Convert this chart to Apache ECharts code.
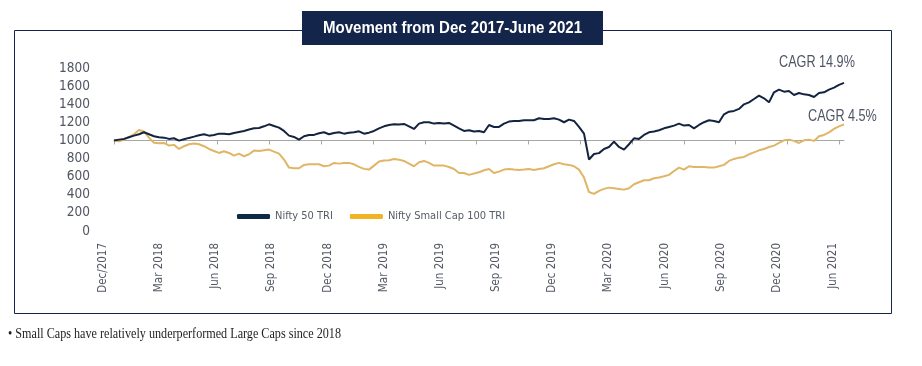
<!DOCTYPE html>
<html><head><meta charset="utf-8">
<script src="https://cdn.jsdelivr.net/npm/echarts@6/dist/echarts.min.js"></script>
<style>html,body{margin:0;padding:0;background:#fff}#c{width:922px;height:366px}</style>
</head><body><div id="c"></div>
<script>
const titleText = 'Movement from Dec 2017-June 2021';
const noteText = '\u2022 Small Caps have relatively underperformed Large Caps since 2018';
const categories = ['Dec/2017','Mar 2018','Jun 2018','Sep 2018','Dec 2018','Mar 2019','Jun 2019','Sep 2019','Dec 2019','Mar 2020','Jun 2020','Sep 2020','Dec 2020','Jun 2021'];
const seriesNames = ['Nifty 50 TRI', 'Nifty Small Cap 100 TRI'];
const cagrLabels = ['CAGR 14.9%', 'CAGR 4.5%'];
const yMin = 0, yMax = 1800, yStep = 200, baseLevel = 1000;
const nifty50 = [1000,1009,1017,1035,1053,1068,1090,1068,1046,1035,1031,1017,1024,998,1013,1028,1042,1057,1068,1053,
1061,1075,1075,1068,1083,1094,1105,1120,1134,1138,1156,1178,1160,1142,1105,1053,1039,1009,1046,1061,
1061,1079,1090,1068,1083,1090,1075,1086,1090,1101,1075,1086,1105,1134,1156,1171,1178,1175,1182,1156,
1127,1186,1201,1201,1186,1193,1186,1193,1164,1134,1105,1112,1098,1105,1090,1171,1149,1149,1186,1208,
1215,1215,1223,1223,1223,1245,1237,1237,1245,1230,1201,1230,1215,1149,1075,790,850,860,906,928,
987,928,899,958,1024,1017,1061,1090,1098,1112,1134,1149,1164,1186,1164,1171,1134,1171,1201,1223,
1215,1201,1289,1318,1326,1348,1399,1421,1458,1494,1465,1421,1532,1561,1539,1546,1502,1524,1509,1502,
1480,1524,1532,1561,1583,1613,1635];
const smallCap100 = [1000,990,1009,1039,1068,1116,1098,1030,975,969,973,943,951,906,936,958,965,958,936,906,
884,862,881,862,833,855,825,847,888,884,892,899,877,855,789,700,693,693,730,737,
737,737,715,722,752,744,752,752,737,708,686,678,722,767,778,781,796,788,774,744,
715,759,774,752,722,722,722,707,685,641,641,620,634,649,671,685,641,656,678,685,
678,674,678,685,674,685,693,715,737,752,737,730,715,678,590,430,410,443,465,479,
472,465,457,472,516,538,560,560,582,590,604,620,663,700,678,715,707,707,707,700,
700,715,730,774,796,810,818,847,869,891,906,928,943,972,1002,1009,995,972,1002,1009,
995,1046,1061,1090,1127,1156,1178];
const monthsPerSample = 3 / 10.36;   // sample spacing along time
const quarterMonths = 3;

const SANS = "'DejaVu Sans Condensed','Liberation Sans',sans-serif";
const SANS2 = "'Liberation Sans',Arial,sans-serif";
const SERIF = "'Liberation Serif','DejaVu Serif',serif";
const NAVY = '#13254a';

const W = 922, H = 366;
const gTop = 68, gBottom = 135, gLeft = 114, gRight = 78;
const gHeight = H - gTop - gBottom;
const xMax = (nifty50.length - 1) * monthsPerSample;
const tickVals = [];
for (let m = 0; m <= xMax; m += quarterMonths) tickVals.push(m);

const toPts = arr => arr.map((v, i) => [i * monthsPerSample, v]);

const chart = echarts.init(document.getElementById('c'), null, {renderer: 'canvas'});
chart.setOption({
  animation: false,
  backgroundColor: '#fff',
  grid: [
    {left: gLeft, right: gRight, top: gTop, bottom: gBottom},
    {left: 103, right: 89, top: gTop, bottom: gBottom}
  ],
  xAxis: [
    {
      type: 'value', gridIndex: 0, min: 0, max: xMax,
      offset: -(baseLevel - yMin) / (yMax - yMin) * gHeight,
      axisLine: {show: true, onZero: false, lineStyle: {color: '#a6a6a6', width: 1}},
      axisTick: {show: true, length: 4, customValues: tickVals, lineStyle: {color: '#a6a6a6'}},
      axisLabel: {show: false},
      splitLine: {show: false}
    },
    {
      type: 'category', gridIndex: 1, data: categories, boundaryGap: false,
      axisLine: {show: false}, axisTick: {show: false}, splitLine: {show: false},
      axisLabel: {rotate: 90, margin: 12, fontFamily: SANS, fontSize: 11.5, color: '#555a66', interval: 0}
    }
  ],
  yAxis: [
    {
      type: 'value', gridIndex: 0, min: yMin, max: yMax, interval: yStep,
      axisLine: {show: false}, axisTick: {show: false}, splitLine: {show: false},
      axisLabel: {margin: 24, fontFamily: SANS, fontSize: 13.5, color: '#505560', formatter: v => String(v)}
    },
    {type: 'value', gridIndex: 1, min: yMin, max: yMax, show: false}
  ],
  legend: {
    left: 237, top: 211, padding: 0, itemGap: 17, itemWidth: 33, itemHeight: 5,
    icon: 'roundRect',
    textStyle: {fontFamily: SANS, fontSize: 11, color: '#555a66'},
    data: [
      {name: seriesNames[0], itemStyle: {color: '#0e2b45'}},
      {name: seriesNames[1], itemStyle: {color: '#f0b323'}}
    ]
  },
  series: [
    {name: seriesNames[0], type: 'line', xAxisIndex: 0, yAxisIndex: 0, data: toPts(nifty50),
     showSymbol: false, symbol: 'none', z: 3, lineStyle: {color: '#14233f', width: 2}, itemStyle: {color: '#14233f'}},
    {name: seriesNames[1], type: 'line', xAxisIndex: 0, yAxisIndex: 0, data: toPts(smallCap100),
     showSymbol: false, symbol: 'none', z: 2, lineStyle: {color: '#e0b566', width: 2}, itemStyle: {color: '#e0b566'}}
  ],
  graphic: [
    {type: 'rect', z: 0, shape: {x: 14.5, y: 30.5, width: 877, height: 283}, style: {fill: 'none', stroke: NAVY, lineWidth: 1}},
    {type: 'rect', z: 10, shape: {x: 302, y: 11, width: 301, height: 34}, style: {fill: NAVY}},
    {type: 'text', z: 11, x: 452.5, y: 28.5, scaleX: 0.94, style: {text: titleText, fill: '#fff', font: "bold 16px " + SANS2, align: 'center', verticalAlign: 'middle'}},
    {type: 'text', z: 11, x: 779, y: 63, scaleX: 0.79, style: {text: cagrLabels[0], fill: '#4e5463', font: "16px " + SANS2, verticalAlign: 'middle'}},
    {type: 'text', z: 11, x: 808, y: 117, scaleX: 0.79, style: {text: cagrLabels[1], fill: '#4e5463', font: "16px " + SANS2, verticalAlign: 'middle'}},
    {type: 'text', z: 11, x: 8, y: 334, scaleX: 0.81, style: {text: noteText, fill: '#1e1e1e', font: "15px " + SERIF, verticalAlign: 'middle'}}
  ]
});
</script>
</body></html>
